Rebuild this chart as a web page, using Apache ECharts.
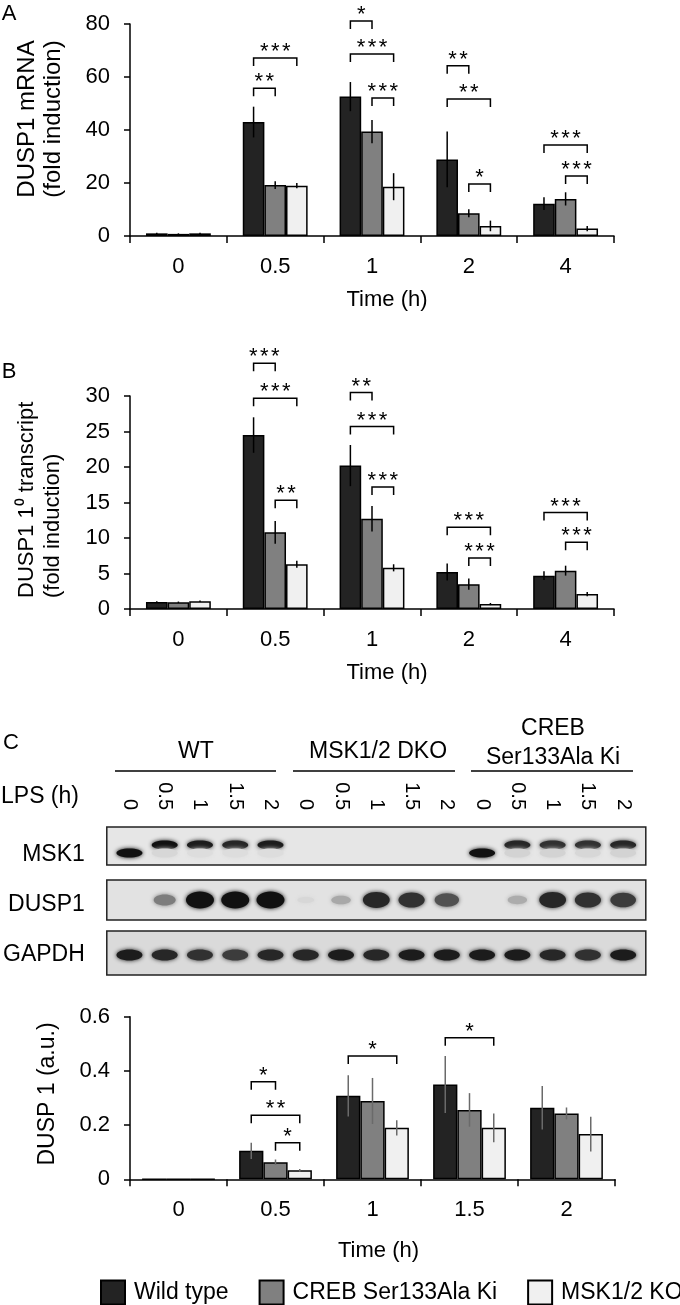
<!DOCTYPE html>
<html><head><meta charset="utf-8">
<script src="https://cdn.jsdelivr.net/npm/echarts@6/dist/echarts.min.js"></script>
<style>html,body{margin:0;padding:0;background:#fff}#c{width:680px;height:1305px}</style>
</head><body><div id="c"></div>
<script>
const FONT = '"Liberation Sans", Arial, Helvetica, sans-serif';
const groups = ['Wild type', 'CREB Ser133Ala Ki', 'MSK1/2 KO'];
const colors = ['#232323', '#808080', '#f0f0f0'];

// ---- Panel A: DUSP1 mRNA ----
const timeA = ['0', '0.5', '1', '2', '4'];
const aWT = [1.0, 43.0, 52.6, 28.9, 12.2];
const aWTerr = [0.2, 5.8, 5.5, 10.5, 2.4];
const aCREB = [0.8, 19.2, 39.4, 8.6, 14.0];
const aCREBerr = [0.2, 1.5, 4.4, 1.5, 2.5];
const aMSK = [1.0, 19.0, 18.6, 3.8, 2.8];
const aMSKerr = [0.2, 1.0, 5.1, 2.0, 1.0];
// significance: [category, fromBar, toBar, bracket height, stars]
const aSig = [[1,0,1,55.8,2],[1,0,2,67.2,3],[2,0,1,81.1,1],[2,0,2,68.7,3],[2,1,2,52.1,3],
              [3,0,1,64.2,2],[3,0,2,51.7,2],[3,1,2,19.6,1],[4,0,2,34.3,3],[4,1,2,22.6,3]];

// ---- Panel B: DUSP1 primary transcript ----
const timeB = ['0', '0.5', '1', '2', '4'];
const bWT = [1.0, 24.5, 20.2, 5.2, 4.7];
const bWTerr = [0.1, 2.5, 2.9, 1.2, 0.6];
const bCREB = [0.95, 10.8, 12.7, 3.5, 5.4];
const bCREBerr = [0.1, 1.6, 1.8, 0.8, 0.7];
const bMSK = [1.1, 6.3, 5.8, 0.7, 2.1];
const bMSKerr = [0.1, 0.5, 0.5, 0.15, 0.3];
const bSig = [[1,0,1,34.6,3],[1,0,2,29.7,3],[1,1,2,15.3,2],[2,0,1,30.5,2],[2,0,2,25.7,3],
              [2,1,2,17.2,3],[3,0,2,11.5,3],[3,1,2,7.2,3],[4,0,2,13.6,3],[4,1,2,9.4,3]];

// ---- Panel C: DUSP1 protein quantification ----
const timeC = ['0', '0.5', '1', '1.5', '2'];
const cWT = [0, 0.105, 0.308, 0.350, 0.264];
const cWTerr = [0, 0.03, 0.076, 0.105, 0.08];
const cCREB = [0, 0.063, 0.289, 0.256, 0.243];
const cCREBerr = [0, 0.01, 0.085, 0.062, 0.022];
const cMSK = [0, 0.033, 0.19, 0.19, 0.167];
const cMSKerr = [0, 0.005, 0.028, 0.053, 0.064];
const cSig = [[1,0,1,0.36,1],[1,0,2,0.236,2],[1,1,2,0.135,1],[2,0,2,0.455,1],[3,0,2,0.522,1]];

// ---- Panel C: western blot (band intensity 0..1 per lane) ----
const blotRows = ['MSK1', 'DUSP1', 'GAPDH'];
const laneLPS = ['0','0.5','1','1.5','2','0','0.5','1','1.5','2','0','0.5','1','1.5','2'];
const msk1Upper = [0,1,0.95,0.9,0.95, 0,0,0,0,0, 0,0.9,0.85,0.85,0.9];
const msk1Lower = [1,0.08,0.05,0.05,0.05, 0,0,0,0,0, 1,0.1,0.1,0.08,0.1];
const dusp1 = [0,0.5,1,1,1, 0.08,0.3,0.9,0.85,0.7, 0,0.28,0.9,0.85,0.8];
const gapdh = [0.95,0.9,0.85,0.8,0.9, 0.9,0.95,0.9,0.95,0.95, 0.95,0.95,0.9,0.85,0.95];

function errData(vals, errs) {
  const out = [];
  vals.forEach((arr, s) => arr.forEach((v, i) => { if (errs[s][i] > 0) out.push([i, s, v, errs[s][i]]); }));
  return out;
}
function errRender(gap, color) {
  return function (params, api) {
    const cat = api.value(0), s = api.value(1), v = api.value(2), e = api.value(3);
    const bw = api.size([1, 0])[0] * (1 - gap) / 3;
    const x = api.coord([cat, v])[0] + (s - 1) * bw;
    const hi = api.coord([cat, v + e])[1], lo = api.coord([cat, Math.max(0, v - e)])[1];
    return { type: 'line', shape: { x1: x, y1: hi, x2: x, y2: lo }, style: { stroke: color, lineWidth: 1.5 } };
  };
}
function sigRender(gap) {
  return function (params, api) {
    const cat = api.value(0), a = api.value(1), b = api.value(2), h = api.value(3), n = api.value(4);
    const bw = api.size([1, 0])[0] * (1 - gap) / 3;
    const p = api.coord([cat, h]);
    const x1 = p[0] + (a - 1) * bw, x2 = p[0] + (b - 1) * bw, y = p[1];
    const ch = [{ type: 'polyline', shape: { points: [[x1, y + 8], [x1, y], [x2, y], [x2, y + 8]] },
                  style: { stroke: '#000', lineWidth: 1.5, fill: null } }];
    const mid = (x1 + x2) / 2;
    for (let k = 0; k < n; k++) {
      ch.push({ type: 'text', x: mid + (k - (n - 1) / 2) * 11, y: y - 6,
        style: { text: '*', fontSize: 22, fontFamily: FONT, align: 'center', verticalAlign: 'middle', fill: '#000' } });
    }
    return { type: 'group', children: ch };
  };
}
function xAx(grid, data, padL, nameGap) {
  return { gridIndex: grid, type: 'category', data: data,
    axisLine: { lineStyle: { color: '#000', width: 1.5 } },
    axisTick: { show: true, length: 7, lineStyle: { color: '#000', width: 1.5 } },
    axisLabel: { color: '#000', fontSize: 22, fontFamily: FONT, margin: 20 },
    name: 'Time (h)', nameLocation: 'middle', nameGap: nameGap,
    nameTextStyle: { color: '#000', fontSize: 22, fontFamily: FONT, padding: [0, 0, 0, padL] } };
}
function yAx(grid, max, interval) {
  return { gridIndex: grid, type: 'value', min: 0, max: max, interval: interval,
    axisLine: { show: true, lineStyle: { color: '#000', width: 1.5 } },
    axisTick: { show: true, length: 6, lineStyle: { color: '#000', width: 1.5 } },
    splitLine: { show: false },
    axisLabel: { color: '#000', fontSize: 22, fontFamily: FONT, margin: 20 } };
}
function barSeries(axis, vals, gapPct) {
  return vals.map((d, s) => ({
    type: 'bar', name: groups[s], xAxisIndex: axis, yAxisIndex: axis, data: d,
    barGap: '0%', barCategoryGap: gapPct, z: 2,
    itemStyle: { color: colors[s], borderColor: '#000', borderWidth: 1.5 }
  }));
}
function panelSeries(axis, vals, errs, sig, gap, errColor) {
  return barSeries(axis, vals, Math.round(gap * 100) + '%').concat([
    { type: 'custom', xAxisIndex: axis, yAxisIndex: axis, data: errData(vals, errs),
      encode: { x: 0, y: 2 }, renderItem: errRender(gap, errColor), z: 3, clip: false, silent: true },
    { type: 'custom', xAxisIndex: axis, yAxisIndex: axis, data: sig,
      encode: { x: 0, y: 3 }, renderItem: sigRender(gap), z: 3, clip: false, silent: true }
  ]);
}

// blot data
const bandData = [];
msk1Upper.forEach((v, i) => { if (v > 0) bandData.push([i, 0, v, 0]); });
msk1Lower.forEach((v, i) => { if (v > 0) bandData.push([i, 0, v, 1]); });
dusp1.forEach((v, i) => { if (v > 0) bandData.push([i, 1, v, 2]); });
gapdh.forEach((v, i) => { if (v > 0) bandData.push([i, 2, v, 3]); });
const boxOff = [-9, -5, -2], boxHalf = [19, 20, 22], boxFill = ['#e6e6e6', '#e2e2e2', '#dadada'];
const bandOff = [-10, -2, -5, 0];

function gray(v) { const g = Math.round(232 - 215 * v); return 'rgb(' + g + ',' + g + ',' + g + ')'; }

const option = {
  animation: false,
  backgroundColor: '#fff',
  textStyle: { fontFamily: FONT },
  grid: [
    { left: 130, top: 24, width: 484, height: 212 },
    { left: 130, top: 396, width: 484, height: 213 },
    { left: 130, top: 1016.7, width: 485, height: 162.6 },
    { left: 107.2, top: 830, width: 533.6, height: 150 }
  ],
  xAxis: [
    xAx(0, timeA, 30, 53), xAx(1, timeB, 30, 53), xAx(2, timeC, 12, 61),
    { gridIndex: 3, type: 'category', position: 'top', data: laneLPS.map((d, i) => 'L' + i),
      axisLine: { show: false }, axisTick: { show: false },
      axisLabel: { rotate: 90, margin: 20, color: '#000', fontSize: 20, fontFamily: FONT, interval: 0,
                   formatter: (v, i) => laneLPS[i] } }
  ],
  yAxis: [
    yAx(0, 80, 20), yAx(1, 30, 5), yAx(2, 0.6, 0.2),
    { gridIndex: 3, type: 'category', inverse: true, data: blotRows,
      axisLine: { show: false }, axisTick: { show: false },
      axisLabel: { color: '#000', fontSize: 23, fontFamily: FONT, margin: 27 } }
  ],
  legend: {
    data: groups, left: 100, top: 1279.5, width: 640, padding: 0, icon: 'rect',
    itemWidth: 24, itemHeight: 24, itemGap: 30, selectedMode: false,
    textStyle: { color: '#000', fontSize: 23, fontFamily: FONT, padding: [0, 0, 0, 4] }
  },
  series: [].concat(
    panelSeries(0, [aWT, aCREB, aMSK], [aWTerr, aCREBerr, aMSKerr], aSig, 0.33, '#000'),
    panelSeries(1, [bWT, bCREB, bMSK], [bWTerr, bCREBerr, bMSKerr], bSig, 0.33, '#000'),
    panelSeries(2, [cWT, cCREB, cMSK], [cWTerr, cCREBerr, cMSKerr], cSig, 0.25, '#6a6a6a'),
    [
      { type: 'custom', xAxisIndex: 3, yAxisIndex: 3, data: [[0, 0], [0, 1], [0, 2]], silent: true, z: 1, clip: false,
        renderItem: function (params, api) {
          const r = api.value(1);
          const c = params.coordSys;
          const yc = api.coord([0, r])[1] + boxOff[r];
          return { type: 'rect', shape: { x: c.x - 5, y: yc - boxHalf[r], width: c.width + 10, height: boxHalf[r] * 2 },
                   style: { fill: boxFill[r], stroke: '#222', lineWidth: 1.5 } };
        } },
      { type: 'custom', xAxisIndex: 3, yAxisIndex: 3, data: bandData, silent: true, z: 2, clip: false,
        renderItem: function (params, api) {
          const lane = api.value(0), r = api.value(1), v = api.value(2), kind = api.value(3);
          const p = api.coord([lane, r]);
          let rx = 13, ry = 4.5;
          if (kind === 2) { rx = 8 + 6 * v; ry = 2.5 + 6 * v; }
          if (kind === 3) { rx = 13; ry = 5.5; }
          const col = gray(v);
          return { type: 'ellipse', shape: { cx: p[0], cy: p[1] + bandOff[kind], rx: rx, ry: ry },
                   style: { fill: col, shadowBlur: 4, shadowColor: col } };
        } }
    ]
  ),
  graphic: [
    { type: 'text', x: 9, y: 14, style: { text: 'A', fontSize: 22, fontFamily: FONT, fill: '#000', align: 'center', verticalAlign: 'middle' } },
    { type: 'text', x: 9, y: 372, style: { text: 'B', fontSize: 22, fontFamily: FONT, fill: '#000', align: 'center', verticalAlign: 'middle' } },
    { type: 'text', x: 11, y: 743, style: { text: 'C', fontSize: 22, fontFamily: FONT, fill: '#000', align: 'center', verticalAlign: 'middle' } },
    { type: 'text', x: 40, y: 119, rotation: Math.PI / 2,
      style: { text: 'DUSP1 mRNA\n(fold induction)', fontSize: 24, lineHeight: 26, fontFamily: FONT, fill: '#000', align: 'center', verticalAlign: 'middle' } },
    { type: 'text', x: 40, y: 598, rotation: Math.PI / 2,
      style: { text: 'DUSP1 1\u2070 transcript\n(fold induction)', fontSize: 22, lineHeight: 26, fontFamily: FONT, fill: '#000', align: 'left', verticalAlign: 'middle' } },
    { type: 'text', x: 48, y: 1094, rotation: Math.PI / 2,
      style: { text: 'DUSP 1 (a.u.)', fontSize: 23, fontFamily: FONT, fill: '#000', align: 'center', verticalAlign: 'middle' } },
    { type: 'text', x: 196, y: 752, style: { text: 'WT', fontSize: 23, fontFamily: FONT, fill: '#000', align: 'center', verticalAlign: 'middle' } },
    { type: 'text', x: 378, y: 752, style: { text: 'MSK1/2 DKO', fontSize: 23, fontFamily: FONT, fill: '#000', align: 'center', verticalAlign: 'middle' } },
    { type: 'text', x: 553, y: 743, style: { text: 'CREB\nSer133Ala Ki', fontSize: 23, lineHeight: 29, fontFamily: FONT, fill: '#000', align: 'center', verticalAlign: 'middle' } },
    { type: 'line', shape: { x1: 115, y1: 771, x2: 276, y2: 771 }, style: { stroke: '#000', lineWidth: 1.5 } },
    { type: 'line', shape: { x1: 293, y1: 771, x2: 455, y2: 771 }, style: { stroke: '#000', lineWidth: 1.5 } },
    { type: 'line', shape: { x1: 471, y1: 771, x2: 633, y2: 771 }, style: { stroke: '#000', lineWidth: 1.5 } },
    { type: 'text', x: 1, y: 797, style: { text: 'LPS (h)', fontSize: 23, fontFamily: FONT, fill: '#000', align: 'left', verticalAlign: 'middle' } }
  ]
};
const chart = echarts.init(document.getElementById('c'), null, { renderer: 'canvas' });
chart.setOption(option);
</script>
</body></html>
